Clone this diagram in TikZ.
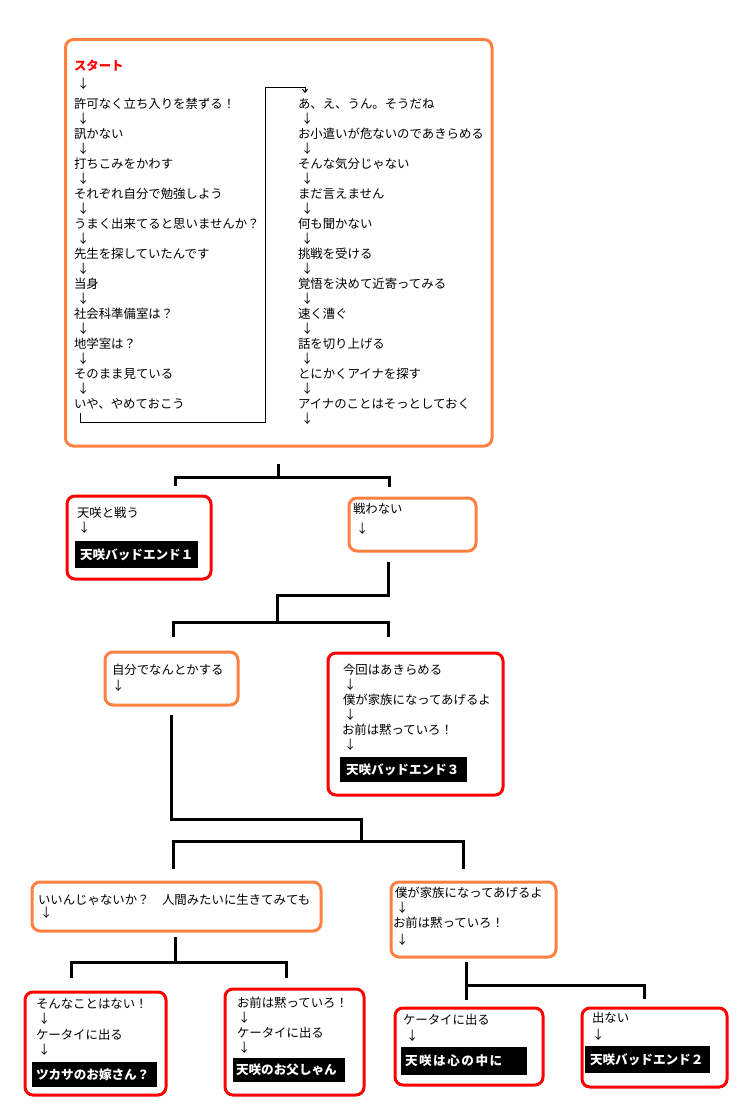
\documentclass[tikz,border=0pt]{standalone}
\usepackage{fontspec}
\setmainfont{Noto Sans CJK JP}
\usetikzlibrary{arrows.meta}
\definecolor{orangeC}{RGB}{255,128,64}
\tikzset{
  every node/.style={inner sep=0pt, outer sep=0pt},
  t/.style={anchor=west, font=\fontsize{12.4}{14}\selectfont},
  ar/.style={t, xshift=2pt},
  obox/.style={draw=orangeC, line width=3pt, rounded corners=8pt, anchor=north west},
  rbox/.style={draw=red, line width=3pt, rounded corners=8pt, anchor=north west},
  ebox/.style={fill=black, text=white, anchor=north west, align=left,
    font=\bfseries\fontsize{12.6}{14}\selectfont},
  tree/.style={line width=3pt, line join=miter},
  thinline/.style={line width=1pt},
}
\newcommand\bxx[6]{\node[#1, minimum width=#4pt, minimum height=#5pt] (#6) at (#2,#3) {};}
\newcommand\blackbx[7]{\pgfmathsetlengthmacro\mytw{#3pt-2*#5pt}\node[ebox, minimum width=#3pt, minimum height=#4pt, inner xsep=#5pt, text width=\mytw] (#6) at (#1,#2) {#7};}
\begin{document}
\begin{tikzpicture}[x=1pt,y=-1pt]
\useasboundingbox (0,0) rectangle (741,1108);

% main box
\bxx{obox}{65.5}{39.5}{426.5}{406.5}{main}
\node[t, text=red, font=\bfseries\fontsize{12.4}{14}\selectfont] (start) at (74,66) {スタート};
\node[ar] (sa) at (75,84) {↓};
\foreach \s [count=\i] in {許可なく立ち入りを禁ずる！,訊かない,打ちこみをかわす,それぞれ自分で勉強しよう,うまく出来てると思いませんか？,先生を探していたんです,当身,社会科準備室は？,地学室は？,そのまま見ている,いや、やめておこう}{
  \node[t] (L\i) at (74,{74+30*\i}) {\s};
}
\foreach \i in {1,...,10}{
  \node[ar] (La\i) at (75,{89+30*\i}) {↓};
}
\foreach \s [count=\i] in {あ、え、うん。そうだね,お小遣いが危ないのであきらめる,そんな気分じゃない,まだ言えません,何も聞かない,挑戦を受ける,覚悟を決めて近寄ってみる,速く漕ぐ,話を切り上げる,とにかくアイナを探す,アイナのことはそっとしておく}{
  \node[t] (R\i) at (298,{74+30*\i}) {\s};
  \node[ar] (Ra\i) at (299,{89+30*\i}) {↓};
}
\coordinate (c1) at (265,422);
\coordinate (c2) at (265,87);
\coordinate (c3) at (305,87);
\draw[thinline] (L11.west) ++(6.5,9) |- (c1) -- (c2) -- (c3);
\draw[thinline, -{Straight Barb[length=3pt,width=5pt]}] (c3) -- ++(0,6);

% tree 1
\coordinate (j1a) at (278,464); \coordinate (j1b) at (278,477);
\coordinate (j1l) at (175,477); \coordinate (j1r) at (389,477);
\coordinate (j1ld) at (175,486); \coordinate (j1rd) at (389,487);
\draw[tree] (j1a) -- (j1b);
\draw[tree] (j1ld) -- (j1l) -- (j1r) -- (j1rd);

% box 1
\bxx{rbox}{67}{496}{144}{83}{b1}
\node[t] (b1t1) at (77,513) {天咲と戦う};
\node[ar] (b1a1) at (76,528) {↓};
\blackbx{75}{541}{123}{27}{5}{e1}{天咲バッドエンド１}

% box 2
\bxx{obox}{349}{498}{127}{53}{b2}
\node[t] (b2t1) at (353,509) {戦わない};
\node[ar] (b2a1) at (354,529) {↓};

% tree 2
\coordinate (j2a) at (388,562); \coordinate (j2b) at (388,595);
\coordinate (j2c) at (277,595); \coordinate (j2d) at (277,622);
\coordinate (j2l) at (173,622); \coordinate (j2r) at (388,622);
\coordinate (j2ld) at (173,637); \coordinate (j2rd) at (388,637);
\draw[tree] (j2a) -- (j2b) -- (j2c) -- (j2d);
\draw[tree] (j2ld) -- (j2l) -- (j2r) -- (j2rd);

% box 3
\bxx{obox}{105}{652}{133}{53}{b3}
\node[t] (b3t1) at (112,670) {自分でなんとかする};
\node[ar] (b3a1) at (110,686) {↓};

% box 4
\bxx{rbox}{328}{653}{175}{142}{b4}
\node[t] (b4t1) at (343,670) {今回はあきらめる};
\node[ar] (b4a1) at (342,685) {↓};
\node[t] (b4t2) at (343,700) {僕が家族になってあげるよ};
\node[ar] (b4a2) at (342,715) {↓};
\node[t] (b4t3) at (342,730) {お前は黙っていろ！};
\node[ar] (b4a3) at (342,745) {↓};
\blackbx{340}{757}{127}{25}{6}{e3}{天咲バッドエンド３}

% tree 3
\coordinate (j3a) at (171,715); \coordinate (j3b) at (171,819);
\coordinate (j3c) at (361,819); \coordinate (j3d) at (361,841);
\coordinate (j3l) at (173,841); \coordinate (j3r) at (463,841);
\coordinate (j3ld) at (173,869); \coordinate (j3rd) at (463,869);
\draw[tree] (j3a) -- (j3b) -- (j3c) -- (j3d);
\draw[tree] (j3ld) -- (j3l) -- (j3r) -- (j3rd);

% box 5
\bxx{obox}{32}{882}{289}{49}{b5}
\node[t] (b5t1) at (38,900) {いいんじゃないか？　人間みたいに生きてみても};
\node[ar] (b5a1) at (38,913) {↓};

% box 6
\bxx{obox}{391}{882}{165}{75}{b6}
\node[t] (b6t1) at (395,893) {僕が家族になってあげるよ};
\node[ar] (b6a1) at (394,908) {↓};
\node[t] (b6t2) at (393,923) {お前は黙っていろ！};
\node[ar] (b6a2) at (394,940) {↓};

% tree 4
\coordinate (j4a) at (175,937); \coordinate (j4b) at (175,962);
\coordinate (j4l) at (71,962); \coordinate (j4r) at (286,962);
\coordinate (j4ld) at (71,978); \coordinate (j4rd) at (286,978);
\draw[tree] (j4a) -- (j4b);
\draw[tree] (j4ld) -- (j4l) -- (j4r) -- (j4rd);

% tree 5
\coordinate (j5a) at (466,962); \coordinate (j5b) at (466,985);
\coordinate (j5c) at (644,985); \coordinate (j5ad) at (466,1000);
\coordinate (j5cd) at (644,999);
\draw[tree] (j5a) -- (j5ad);
\draw[tree] (j5b) -- (j5c) -- (j5cd);

% box 7
\bxx{rbox}{25}{992}{141}{103}{b7}
\node[t] (b7t1) at (36,1004) {そんなことはない！};
\node[ar] (b7a1) at (36,1019) {↓};
\node[t] (b7t2) at (36,1035) {ケータイに出る};
\node[ar] (b7a2) at (36,1050) {↓};
\blackbx{32}{1062}{125}{25}{4}{e4}{ツカサのお嫁さん？}

% box 8
\bxx{rbox}{225}{989}{139}{106}{b8}
\node[t] (b8t1) at (237,1003) {お前は黙っていろ！};
\node[ar] (b8a1) at (236,1018) {↓};
\node[t] (b8t2) at (237,1033) {ケータイに出る};
\node[ar] (b8a2) at (236,1048) {↓};
\blackbx{233}{1058}{112}{24}{3}{e5}{天咲のお父しゃん}

% box 9
\bxx{rbox}{395}{1008}{148}{77}{b9}
\node[t] (b9t1) at (403,1020) {ケータイに出る};
\node[ar] (b9a1) at (404,1036) {↓};
\blackbx{401}{1047}{126}{28}{4}{e6}{\addfontfeature{LetterSpace=12}天咲は心の中に}

% box 10
\bxx{rbox}{582}{1008}{145}{79}{b10}
\node[t] (b10t1) at (592,1018) {出ない};
\node[ar] (b10a1) at (590,1035) {↓};
\blackbx{585}{1046}{125}{27}{5}{e2}{天咲バッドエンド２}
\end{tikzpicture}
\end{document}
